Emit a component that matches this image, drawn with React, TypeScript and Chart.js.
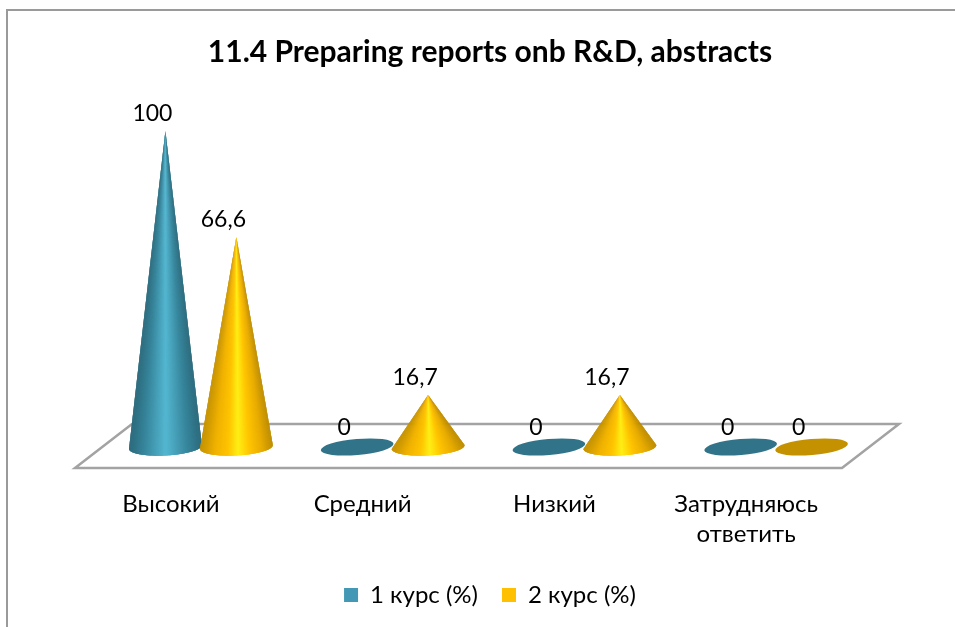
import React, { useEffect, useRef } from "react";
import { Chart, registerables } from "chart.js";

Chart.register(...registerables);

const categories = ["Высокий", "Средний", "Низкий", ["Затрудняюсь", "ответить"]];
const seriesOneName = "1 курс (%)";
const seriesTwoName = "2 курс (%)";
const seriesOne = [100, 0, 0, 0];
const seriesTwo = [66.6, 16.7, 16.7, 0];
const chartTitle = "11.4 Preparing reports onb R&D, abstracts";

const FONT = "Lato, 'Noto Sans', sans-serif";
const DEPTH_X = 57;
const DEPTH_Y = 44;
const SHIFT_X = 30;
const FLOOR_DROP = 20;

type Stop = [number, [number, number, number]];
const shades: { stops: Stop[]; flat: string }[] = [
  {
    flat: "#31748a",
    stops: [
      [0, [44, 106, 124]],
      [0.2, [55, 134, 156]],
      [0.5, [84, 183, 209]],
      [0.8, [55, 134, 156]],
      [1, [44, 106, 124]],
    ],
  },
  {
    flat: "#c49200",
    stops: [
      [0, [196, 146, 0]],
      [0.2, [240, 178, 0]],
      [0.38, [255, 196, 0]],
      [0.52, [255, 238, 22]],
      [0.68, [255, 196, 0]],
      [0.85, [232, 172, 0]],
      [1, [190, 142, 0]],
    ],
  },
];

function shadeAt(stops: Stop[], t: number) {
  for (let i = 1; i < stops.length; i++) {
    if (t <= stops[i][0]) {
      const [a, ca] = stops[i - 1];
      const [b, cb] = stops[i];
      const k = (t - a) / (b - a);
      const c = ca.map((v, j) => Math.round(v + (cb[j] - v) * k));
      return `rgb(${c[0]},${c[1]},${c[2]})`;
    }
  }
  const l = stops[stops.length - 1][1];
  return `rgb(${l[0]},${l[1]},${l[2]})`;
}

function drawFlat(ctx: CanvasRenderingContext2D, cx: number, cy: number, rx: number, color: string) {
  ctx.fillStyle = color;
  ctx.beginPath();
  ctx.ellipse(cx, cy, rx, 8, (-5 * Math.PI) / 180, 0, Math.PI * 2);
  ctx.fill();
}

function drawCone(ctx: CanvasRenderingContext2D, cx: number, cy: number, rx: number, tipY: number, stops: Stop[]) {
  const rot = (-3 * Math.PI) / 180;
  const n = 160;
  const pt = (k: number) => {
    const th = Math.PI - (Math.PI * Math.min(k, n)) / n;
    const ex = rx * Math.cos(th);
    const ey = 8.5 * Math.sin(th);
    return [cx + ex * Math.cos(rot) - ey * Math.sin(rot), cy + ex * Math.sin(rot) + ey * Math.cos(rot)];
  };
  for (let i = 0; i < n; i++) {
    const a = pt(i);
    const b = pt(i + 3);
    const color = shadeAt(stops, Math.min(1, Math.max(0, (a[0] - (cx - rx)) / (2 * rx))));
    ctx.fillStyle = color;
    ctx.beginPath();
    ctx.moveTo(cx, tipY);
    ctx.lineTo(a[0], a[1]);
    ctx.lineTo(b[0], b[1]);
    ctx.closePath();
    ctx.fill();
  }
}

const conePlugin = {
  id: "cones",
  beforeDatasetsDraw(chart: any) {
    const { ctx, chartArea, width, height } = chart;
    ctx.save();
    ctx.strokeStyle = "#9a9a9a";
    ctx.lineWidth = 2;
    ctx.beginPath();
    ctx.moveTo(7, height);
    ctx.lineTo(7, 10);
    ctx.lineTo(width, 10);
    ctx.stroke();
    const y = chartArea.bottom + FLOOR_DROP;
    ctx.strokeStyle = "#a3a3a3";
    ctx.lineWidth = 2.5;
    ctx.lineJoin = "miter";
    ctx.beginPath();
    ctx.moveTo(chartArea.left, y);
    ctx.lineTo(chartArea.right, y);
    ctx.lineTo(chartArea.right + DEPTH_X, y - DEPTH_Y);
    ctx.lineTo(chartArea.left + DEPTH_X, y - DEPTH_Y);
    ctx.closePath();
    ctx.stroke();
    ctx.restore();
  },
  beforeDatasetDraw() {
    return false;
  },
  afterDatasetsDraw(chart: any) {
    const { ctx } = chart;
    const m0 = chart.getDatasetMeta(0).data;
    const m1 = chart.getDatasetMeta(1).data;
    const paint = (el: any, ds: number) => {
      const cx = el.x + SHIFT_X;
      const rx = el.width / 2 + 1;
      const cy = el.base - 1;
      const isZero = Math.abs(el.base - el.y) < 1;
      if (isZero) drawFlat(ctx, cx, cy, rx, shades[ds].flat);
      else drawCone(ctx, cx, cy, rx, el.y, shades[ds].stops);
    };
    ctx.save();
    m1.forEach((el: any, i: number) => {
      if (chart.data.datasets[1].data[i] === 0) paint(el, 1);
    });
    m0.forEach((el: any) => paint(el, 0));
    m1.forEach((el: any, i: number) => {
      if (chart.data.datasets[1].data[i] !== 0) paint(el, 1);
    });
    ctx.fillStyle = "#000";
    ctx.font = `23px ${FONT}`;
    ctx.textAlign = "center";
    ctx.textBaseline = "middle";
    [m0, m1].forEach((els: any[], ds) => {
      els.forEach((el, i) => {
        const v = chart.data.datasets[ds].data[i];
        ctx.fillText(String(v).replace(".", ","), el.x + SHIFT_X - 13, el.y - (v === 0 ? 20 : 17));
      });
    });
    ctx.restore();
  },
};

export default function App() {
  const ref = useRef<HTMLCanvasElement>(null);
  useEffect(() => {
    document.body.style.margin = "0";
    const chart = new Chart(ref.current!, {
      type: "bar",
      data: {
        labels: categories as any,
        datasets: [
          { label: seriesOneName, data: seriesOne, backgroundColor: "#4298b5" },
          { label: seriesTwoName, data: seriesTwo, backgroundColor: "#ffc000" },
        ],
      },
      plugins: [conePlugin as any],
      options: {
        animation: false,
        responsive: false,
        layout: { padding: { left: 25, top: 0, right: 0, bottom: 10 } },
        datasets: { bar: { categoryPercentage: 0.74, barPercentage: 1 } },
        plugins: {
          tooltip: { enabled: false },
          title: {
            display: true,
            text: chartTitle,
            color: "#000",
            font: { family: FONT, size: 30, weight: "bold" },
            padding: { top: 34, bottom: 61 },
          },
          legend: {
            position: "bottom",
            labels: {
              color: "#000",
              font: { family: FONT, size: 24 },
              boxWidth: 14,
              boxHeight: 14,
              padding: 24,
            },
          },
        },
        scales: {
          x: {
            grid: { display: false },
            border: { display: false },
            ticks: {
              color: "#000",
              font: { family: FONT, size: 24, lineHeight: 1.27 },
              padding: 33,
              maxRotation: 0,
              autoSkip: false,
            },
            afterFit(s: any) {
              s.height = 111;
            },
          },
          y: {
            min: 0,
            max: 100,
            grid: { display: false },
            border: { display: false },
            ticks: { display: false },
            afterFit(s: any) {
              s.width = 50;
            },
          },
          yRight: {
            position: "right",
            min: 0,
            max: 100,
            grid: { display: false },
            border: { display: false },
            ticks: { display: false },
            afterFit(s: any) {
              s.width = 113;
            },
          },
        },
      } as any,
    });
    return () => chart.destroy();
  }, []);
  return <canvas ref={ref} width={955} height={627} style={{ display: "block" }} />;
}
